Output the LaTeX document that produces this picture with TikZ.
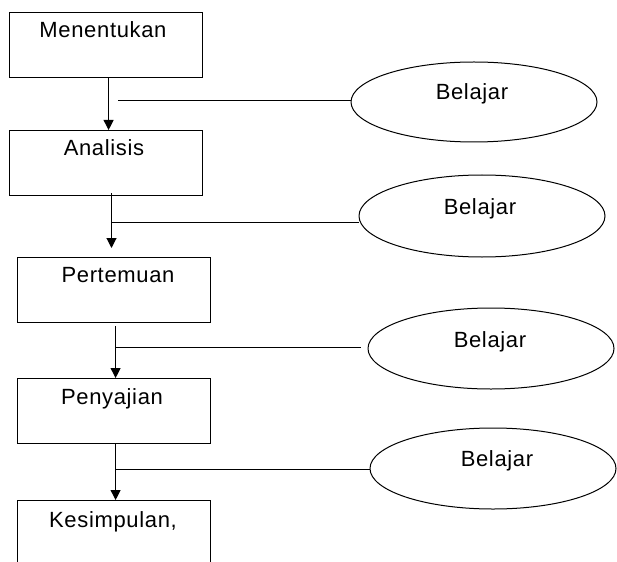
\documentclass[tikz,border=0pt]{standalone}
\usepackage{fontspec}
\setmainfont[LetterSpace=3]{Liberation Sans}
\usetikzlibrary{shapes.geometric,arrows.meta}
\begin{document}
\begin{tikzpicture}[x=1pt,y=-1pt,
  stepbox/.style={draw,line width=1.2pt,rectangle,minimum width=193pt,minimum height=65pt,inner sep=0pt,anchor=north west},
  oval/.style={draw,line width=1pt,ellipse,minimum width=246pt,minimum height=81pt,inner sep=0pt},
  lbl/.style={anchor=base,inner sep=0pt,font=\fontsize{22}{26}\selectfont},
  arr/.style={line width=1.1pt,-{Triangle[length=10pt,width=10pt]}},
  link/.style={line width=1pt}]
\useasboundingbox (0,0) rectangle (617,561);
% boxes
\node[stepbox] (b1) at (9,12) {};
\node[stepbox] (b2) at (9,130) {};
\node[stepbox] (b3) at (17,257) {};
\node[stepbox] (b4) at (17,378) {};
\node[stepbox] (b5) at (17,500) {};
\node[lbl] (t1) at (103,38) {Menentukan};
\node[lbl] (t2) at (104,156) {Analisis};
\node[lbl] (t3) at (118,282) {Pertemuan};
\node[lbl] (t4) at (112,404) {Penyajian};
\node[lbl] (t5) at (113,527) {Kesimpulan,};
% ellipses
\node[oval,minimum height=80pt] (e1) at (474,102) {};
\node[oval,minimum height=82pt] (e2) at (482,216) {};
\node[oval] (e3) at (491,348.5) {};
\node[oval] (e4) at (493,468.5) {};
\node[lbl] (u1) at (472,100) {Belajar};
\node[lbl] (u2) at (480,214) {Belajar};
\node[lbl] (u3) at (490,347) {Belajar};
\node[lbl] (u4) at (497,466) {Belajar};
% arrows
\draw[arr] ([xshift=2.5pt]b1.south) -- ([xshift=2.5pt]b2.north);
\coordinate (a2s) at (111.5,193);
\coordinate (a2e) at (111.5,248);
\draw[arr] (a2s) -- (a2e);
\draw[arr] ([xshift=1.5pt,yshift=-3pt]b3.south) -- ([xshift=1.5pt]b4.north);
\draw[arr] ([xshift=1.5pt]b4.south) -- ([xshift=1.5pt]b5.north);
% links
\coordinate (h1) at (118,101);
\coordinate (h2) at (111.5,222);
\coordinate (h3) at (115,347);
\coordinate (h4) at (115,469);
\coordinate (k3) at (361,347);
\draw[link] (h1) -- (h1 -| e1.west);
\draw[link] (h2) -- (h2 -| e2.west);
\draw[link] (h3) -- (k3);
\draw[link] (h4) -- (h4 -| e4.west);
\end{tikzpicture}
\end{document}
